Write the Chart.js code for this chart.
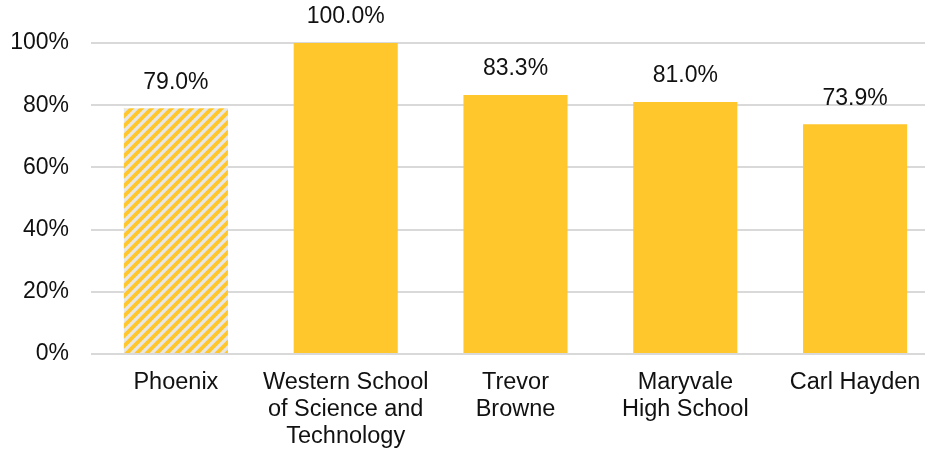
<!DOCTYPE html>
<html>
<head>
<meta charset="utf-8">
<script src="https://cdn.jsdelivr.net/npm/chart.js@4"></script>
<style>
  html, body { margin: 0; padding: 0; background: #fff; overflow: hidden; }
  #wrap { width: 930px; height: 451px; overflow: hidden; }
</style>
</head>
<body>
<div id="wrap"><canvas id="chart" width="945" height="451"></canvas></div>
<script>
// Chart data
const schools = [
  'Phoenix',
  ['Western School', 'of Science and', 'Technology'],
  ['Trevor', 'Browne'],
  ['Maryvale', 'High School'],
  'Carl Hayden'
];
const rates = [79.0, 100.0, 83.3, 81.0, 73.9];
const yTicks = [0, 20, 40, 60, 80, 100];

const gold = '#FFC72C';
const fontFamily = '"Liberation Sans", Arial, sans-serif';

// striped fill for the city-wide bar
function makeStripes() {
  const s = 10;
  const c = document.createElement('canvas');
  c.width = s; c.height = s;
  const g = c.getContext('2d');
  g.fillStyle = '#E7E7E7';
  g.fillRect(0, 0, s, s);
  g.strokeStyle = gold;
  g.lineWidth = 3.8;
  g.beginPath();
  // x + y = s, plus the corner pieces x + y = 0 and x + y = 2s
  g.moveTo(-2, s + 2); g.lineTo(s + 2, -2);
  g.moveTo(-3, 3); g.lineTo(3, -3);
  g.moveTo(s - 3, s + 3); g.lineTo(s + 3, s - 3);
  g.stroke();
  return g.createPattern(c, 'repeat');
}

const barColors = rates.map((v, i) => i === 0 ? makeStripes() : gold);

// gridlines stop short of the last category's right edge
const gridRight = 925;
const trimGrid = {
  id: 'trimGrid',
  beforeDatasetsDraw(chart) {
    const a = chart.chartArea;
    chart.ctx.save();
    chart.ctx.fillStyle = '#fff';
    chart.ctx.fillRect(gridRight, a.top - 3, chart.width - gridRight, a.bottom - a.top + 6);
    chart.ctx.restore();
  }
};

// value labels above bars
const valueLabels = {
  id: 'valueLabels',
  afterDatasetsDraw(chart) {
    const ctx = chart.ctx;
    const meta = chart.getDatasetMeta(0);
    ctx.save();
    ctx.font = '23px ' + fontFamily;
    ctx.fillStyle = '#111';
    ctx.textAlign = 'center';
    ctx.textBaseline = 'middle';
    meta.data.forEach((bar, i) => {
      ctx.fillText(rates[i].toFixed(1) + '%', bar.x, bar.y - 26);
    });
    ctx.restore();
  }
};

new Chart(document.getElementById('chart'), {
  type: 'bar',
  data: {
    labels: schools,
    datasets: [{
      data: rates,
      backgroundColor: barColors,
      borderWidth: 0,
      barPercentage: 0.613,
      categoryPercentage: 1
    }]
  },
  options: {
    responsive: false,
    animation: false,
    layout: { padding: { top: 43, right: 5, left: 0, bottom: 0 } },
    plugins: { legend: { display: false }, tooltip: { enabled: false } },
    scales: {
      x: {
        grid: { display: false, drawTicks: false },
        border: { display: false },
        ticks: {
          color: '#111',
          padding: 15,
          maxRotation: 0,
          autoSkip: false,
          font: { family: fontFamily, size: 23.5, lineHeight: '27px' }
        },
        afterFit(scale) { scale.height = 97; }
      },
      y: {
        min: 0,
        max: 100,
        afterBuildTicks(scale) { scale.ticks = yTicks.map(v => ({ value: v })); },
        grid: { color: '#D9D9D9', lineWidth: 2, drawTicks: false },
        border: { display: false },
        ticks: {
          color: '#111',
          padding: 22,
          font: { family: fontFamily, size: 23 },
          callback: v => v + '%'
        },
        afterFit(scale) { scale.width = 91; }
      }
    }
  },
  plugins: [trimGrid, valueLabels]
});
</script>
</body>
</html>
